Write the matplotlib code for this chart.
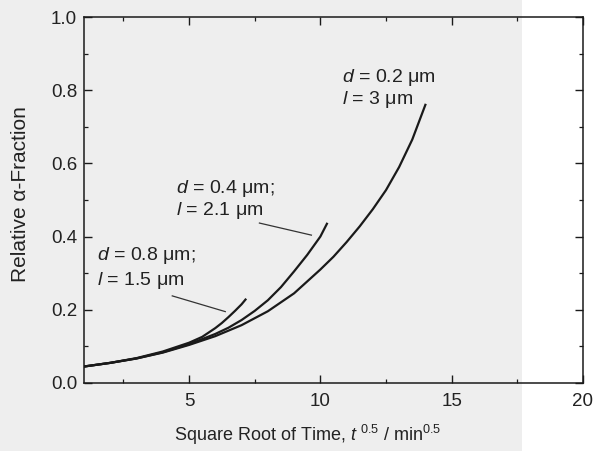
import matplotlib
matplotlib.use("Agg")
import matplotlib.pyplot as plt
from matplotlib.patches import Rectangle
from matplotlib.ticker import MultipleLocator, FormatStrFormatter

# sqrt(t) in min^0.5 and relative alpha fraction for the three microstructures
x_fine = [1, 2, 3, 4, 5, 6, 7, 8, 9, 10, 10.5, 11, 11.5, 12, 12.5,
          13, 13.5, 14]
y_fine = [0.045, 0.055, 0.067, 0.083, 0.104, 0.128, 0.158, 0.196, 0.245,
          0.31, 0.345, 0.385, 0.428, 0.475, 0.527, 0.59, 0.665, 0.76]

x_mid = [1, 2, 3, 4, 5, 6, 6.5, 7, 7.5, 8, 8.5, 9, 9.5, 10, 10.25]
y_mid = [0.045, 0.055, 0.067, 0.084, 0.106, 0.134, 0.151, 0.172, 0.197,
         0.226, 0.262, 0.305, 0.35, 0.40, 0.435]

x_coarse = [1, 2, 3, 4, 5, 5.5, 6, 6.25, 6.5, 6.75, 7, 7.15]
y_coarse = [0.045, 0.055, 0.068, 0.086, 0.11, 0.126, 0.15, 0.164, 0.18,
            0.197, 0.215, 0.228]

label_d = [r"$d$ = 0.2 μm", r"$d$ = 0.4 μm;", r"$d$ = 0.8 μm;"]
label_l = [r"$l$ = 3 μm", r"$l$ = 2.1 μm", r"$l$ = 1.5 μm"]

plt.rcParams.update({
    "font.family": "Liberation Sans",
    "mathtext.fontset": "custom",
    "mathtext.rm": "Liberation Sans",
    "mathtext.it": "Liberation Sans:italic",
    "font.size": 13,
})

INK = "#1a1a1a"
TXT = "#222222"

fig = plt.figure(figsize=(5.93, 4.51), dpi=100)
fig.patch.set_facecolor("white")
# grey tint of the printed page
fig.patches.append(Rectangle((0, 0), 0.88, 1, transform=fig.transFigure,
                             facecolor="#eeeeee", edgecolor="none", zorder=-10))

ax = fig.add_axes([0.1417, 0.1508, 0.8413, 0.8115])
ax.set_facecolor("none")

ax.plot(x_fine, y_fine, color=INK, lw=1.6)
ax.plot(x_mid, y_mid, color=INK, lw=1.6)
ax.plot(x_coarse, y_coarse, color=INK, lw=1.6)

# curve labels, with leader lines for the two shorter curves
for xt, yd, yl, td, tl in [(10.83, 0.822, 0.762, label_d[0], label_l[0]),
                           (4.5, 0.519, 0.459, label_d[1], label_l[1]),
                           (1.5, 0.336, 0.268, label_d[2], label_l[2])]:
    ax.text(xt, yd, td, color=TXT, fontsize=14, va="baseline")
    ax.text(xt, yl, tl, color=TXT, fontsize=14, va="baseline")
ax.plot([7.68, 9.66], [0.437, 0.404], color="#333333", lw=0.9)
ax.plot([4.36, 6.38], [0.238, 0.195], color="#333333", lw=0.9)

ax.set_xlim(1, 20)
ax.set_ylim(0, 1.0)
ax.xaxis.set_major_locator(MultipleLocator(5))
ax.xaxis.set_minor_locator(MultipleLocator(2.5))
ax.yaxis.set_major_locator(MultipleLocator(0.2))
ax.yaxis.set_minor_locator(MultipleLocator(0.1))
ax.yaxis.set_major_formatter(FormatStrFormatter("%.1f"))

ax.tick_params(which="both", direction="in", top=True, right=True,
               color=INK, labelcolor=TXT, labelsize=13.5)
ax.tick_params(which="major", length=6, width=1.0, pad=5)
ax.tick_params(which="minor", length=3, width=0.9)
ax.tick_params(axis="x", which="major", pad=7)
for s in ax.spines.values():
    s.set_linewidth(1.1)
    s.set_color(INK)

ax.set_xlabel(r"Square Root of Time, $t\ ^{0.5}$ / min$^{0.5}$",
              fontsize=13, color=TXT)
ax.xaxis.set_label_coords(0.448, -0.11)
ax.set_ylabel("Relative α-Fraction", fontsize=15, color=TXT)
ax.yaxis.set_label_coords(-0.108, 0.515)

fig.savefig("out.png", dpi=100, facecolor="white")
